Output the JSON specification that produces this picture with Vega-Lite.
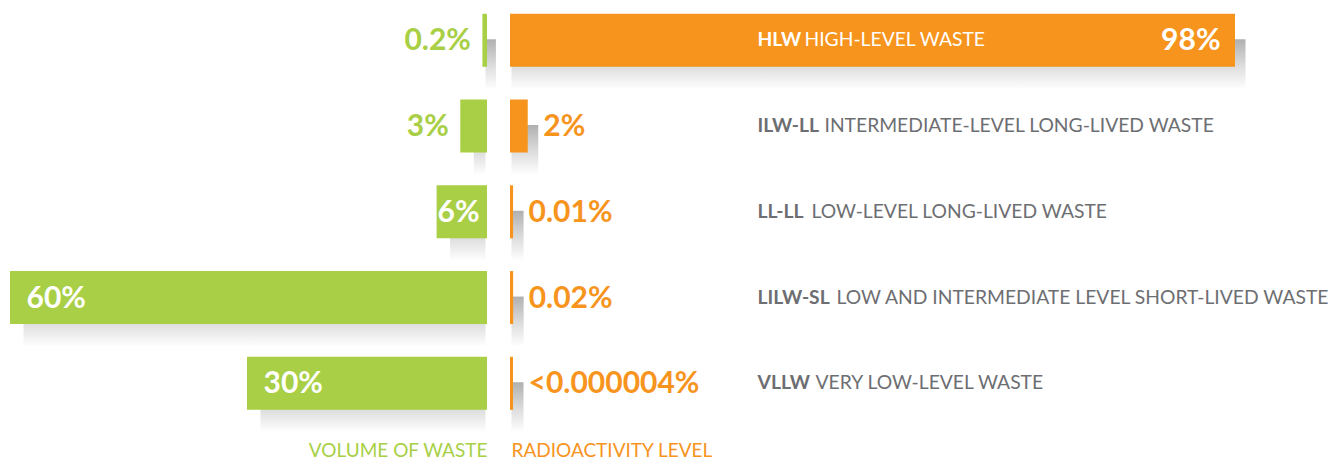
{
  "$schema": "https://vega.github.io/schema/vega-lite/v6.json",
  "width": 1340,
  "height": 461,
  "autosize": "none",
  "padding": 0,
  "background": "white",
  "config": {
    "view": {"stroke": null},
    "axis": {"grid": false, "domain": false, "ticks": false},
    "text": {"font": "Lato"}
  },
  "data": {
    "values": [
      {"code": "HLW", "desc": "HIGH-LEVEL WASTE", "volume": 0.2, "volumeLabel": "0.2%", "activity": 98, "activityLabel": "98%"},
      {"code": "ILW-LL", "desc": "INTERMEDIATE-LEVEL LONG-LIVED WASTE", "volume": 3, "volumeLabel": "3%", "activity": 2, "activityLabel": "2%"},
      {"code": "LL-LL", "desc": "LOW-LEVEL LONG-LIVED WASTE", "volume": 6, "volumeLabel": "6%", "activity": 0.01, "activityLabel": "0.01%"},
      {"code": "LILW-SL", "desc": "LOW AND INTERMEDIATE LEVEL SHORT-LIVED WASTE", "volume": 60, "volumeLabel": "60%", "activity": 0.02, "activityLabel": "0.02%"},
      {"code": "VLLW", "desc": "VERY LOW-LEVEL WASTE", "volume": 30, "volumeLabel": "30%", "activity": 0.000004, "activityLabel": "<0.000004%"}
    ]
  },
  "resolve": {"scale": {"x": "independent", "y": "independent"}, "axis": {"x": "independent", "y": "independent"}},
  "layer": [
    {
      "mark": {"type": "bar", "xOffset": 12, "yOffset": 24, "fill": {"gradient": "linear", "x1": 0, "y1": 0, "x2": 0, "y2": 1, "stops": [{"offset": 0, "color": "#b0b0b0"}, {"offset": 0.5, "color": "#dadada"}, {"offset": 1, "color": "#ffffff"}]}},
      "encoding": {
        "x": {"field": "volume", "type": "quantitative", "scale": {"domain": [0, 60], "range": [485.5, 11.5]}, "axis": null},
        "x2": {"datum": 0},
        "y": {"field": "desc", "type": "nominal", "sort": null, "scale": {"domain": ["HIGH-LEVEL WASTE", "INTERMEDIATE-LEVEL LONG-LIVED WASTE", "LOW-LEVEL LONG-LIVED WASTE", "LOW AND INTERMEDIATE LEVEL SHORT-LIVED WASTE", "VERY LOW-LEVEL WASTE"], "range": [-2.6, 426.2], "paddingInner": 0.417, "paddingOuter": 0.2085},
          "axis": {"orient": "right", "offset": -583, "zindex": 1, "title": null, "labelAlign": "left", "labelBaseline": "middle", "labelFont": "Lato", "labelFontSize": 19.3, "labelFontWeight": "normal", "labelLimit": 0,
            "labelPadding": {"condition": [
              {"test": "datum.value === 'HIGH-LEVEL WASTE'", "value": 47},
              {"test": "datum.value === 'INTERMEDIATE-LEVEL LONG-LIVED WASTE'", "value": 67},
              {"test": "datum.value === 'LOW-LEVEL LONG-LIVED WASTE'", "value": 54},
              {"test": "datum.value === 'LOW AND INTERMEDIATE LEVEL SHORT-LIVED WASTE'", "value": 79}
            ], "value": 58},
            "labelColor": {"condition": {"test": "datum.value === 'HIGH-LEVEL WASTE'", "value": "#ffffff"}, "value": "#6d6e71"}}}
      }
    },
    {
      "mark": {"type": "bar", "xOffset": 12, "yOffset": 24, "fill": {"gradient": "linear", "x1": 0, "y1": 0, "x2": 0, "y2": 1, "stops": [{"offset": 0, "color": "#b0b0b0"}, {"offset": 0.5, "color": "#dadada"}, {"offset": 1, "color": "#ffffff"}]}},
      "encoding": {
        "x": {"field": "activity", "type": "quantitative", "scale": {"domain": [0, 98], "range": [511.5, 1233.5]}, "axis": null},
        "x2": {"datum": 0},
        "y": {"field": "code", "type": "nominal", "sort": null, "scale": {"domain": ["HLW", "ILW-LL", "LL-LL", "LILW-SL", "VLLW"], "range": [-2.6, 426.2], "paddingInner": 0.417, "paddingOuter": 0.2085}, "axis": null}
      }
    },
    {
      "mark": {"type": "bar", "color": "#a8cf45", "stroke": "#a8cf45", "strokeWidth": 3},
      "encoding": {
        "x": {"field": "volume", "type": "quantitative", "scale": {"domain": [0, 60], "range": [485.5, 11.5]},
          "axis": {"orient": "bottom", "labels": false, "title": "VOLUME OF WASTE", "titleX": 487, "titleY": -11, "titleAlign": "right", "titleBaseline": "middle", "titleFont": "Lato", "titleFontSize": 19, "titleFontWeight": "normal", "titleColor": "#a8cf45", "titlePadding": 0}},
        "x2": {"datum": 0},
        "y": {"field": "code", "type": "nominal", "sort": null, "scale": {"domain": ["HLW", "ILW-LL", "LL-LL", "LILW-SL", "VLLW"], "range": [-2.6, 426.2], "paddingInner": 0.417, "paddingOuter": 0.2085}, "axis": null}
      }
    },
    {
      "mark": {"type": "bar", "color": "#f7941d", "stroke": "#f7941d", "strokeWidth": 3},
      "encoding": {
        "x": {"field": "activity", "type": "quantitative", "scale": {"domain": [0, 98], "range": [511.5, 1233.5]},
          "axis": {"orient": "top", "labels": false, "title": "RADIOACTIVITY LEVEL", "titleX": 511, "titleY": 450, "titleAlign": "left", "titleBaseline": "middle", "titleFont": "Lato", "titleFontSize": 19, "titleFontWeight": "normal", "titleColor": "#f7941d", "titlePadding": 0}},
        "x2": {"datum": 0},
        "y": {"field": "code", "type": "nominal", "sort": null, "scale": {"domain": ["HLW", "ILW-LL", "LL-LL", "LILW-SL", "VLLW"], "range": [-2.6, 426.2], "paddingInner": 0.417, "paddingOuter": 0.2085},
          "axis": {"orient": "right", "offset": -583, "zindex": 1, "title": null, "labelAlign": "left", "labelBaseline": "middle", "labelPadding": 0, "labelFont": "Lato", "labelFontSize": 19.3, "labelFontWeight": "bold", "labelLimit": 0,
            "labelColor": {"condition": {"test": "datum.value === 'HLW'", "value": "#ffffff"}, "value": "#6d6e71"}}}
      }
    },
    {
      "transform": [{"filter": "datum.volume < 5"}],
      "mark": {"type": "text", "align": "right", "baseline": "middle", "dx": -13, "dy": 1, "font": "Lato", "fontSize": 30, "fontWeight": "bold", "color": "#a8cf45"},
      "encoding": {
        "x": {"field": "volume", "type": "quantitative", "scale": {"domain": [0, 60], "range": [485.5, 11.5]}, "axis": null},
        "y": {"field": "code", "type": "nominal", "sort": null, "scale": {"domain": ["HLW", "ILW-LL", "LL-LL", "LILW-SL", "VLLW"], "range": [-2.6, 426.2], "paddingInner": 0.417, "paddingOuter": 0.2085}, "axis": null},
        "text": {"field": "volumeLabel"}
      }
    },
    {
      "transform": [{"filter": "datum.volume >= 20"}],
      "mark": {"type": "text", "align": "left", "baseline": "middle", "dx": 15, "dy": 1, "font": "Lato", "fontSize": 30, "fontWeight": "bold", "color": "#ffffff"},
      "encoding": {
        "x": {"field": "volume", "type": "quantitative", "scale": {"domain": [0, 60], "range": [485.5, 11.5]}, "axis": null},
        "y": {"field": "code", "type": "nominal", "sort": null, "scale": {"domain": ["HLW", "ILW-LL", "LL-LL", "LILW-SL", "VLLW"], "range": [-2.6, 426.2], "paddingInner": 0.417, "paddingOuter": 0.2085}, "axis": null},
        "text": {"field": "volumeLabel"}
      }
    },
    {
      "transform": [{"filter": "datum.volume >= 5 && datum.volume < 20"}],
      "mark": {"type": "text", "align": "right", "baseline": "middle", "dx": -6, "dy": 1, "font": "Lato", "fontSize": 30, "fontWeight": "bold", "color": "#ffffff"},
      "encoding": {
        "x": {"datum": 0, "type": "quantitative", "scale": {"domain": [0, 60], "range": [485.5, 11.5]}, "axis": null},
        "y": {"field": "code", "type": "nominal", "sort": null, "scale": {"domain": ["HLW", "ILW-LL", "LL-LL", "LILW-SL", "VLLW"], "range": [-2.6, 426.2], "paddingInner": 0.417, "paddingOuter": 0.2085}, "axis": null},
        "text": {"field": "volumeLabel"}
      }
    },
    {
      "transform": [{"filter": "datum.activity >= 50"}],
      "mark": {"type": "text", "align": "right", "baseline": "middle", "dx": -13, "dy": 1, "font": "Lato", "fontSize": 30, "fontWeight": "bold", "color": "#ffffff"},
      "encoding": {
        "x": {"field": "activity", "type": "quantitative", "scale": {"domain": [0, 98], "range": [511.5, 1233.5]}, "axis": null},
        "y": {"field": "code", "type": "nominal", "sort": null, "scale": {"domain": ["HLW", "ILW-LL", "LL-LL", "LILW-SL", "VLLW"], "range": [-2.6, 426.2], "paddingInner": 0.417, "paddingOuter": 0.2085}, "axis": null},
        "text": {"field": "activityLabel"}
      }
    },
    {
      "transform": [{"filter": "datum.activity < 50"}],
      "mark": {"type": "text", "align": "left", "baseline": "middle", "dx": 17, "dy": 1, "font": "Lato", "fontSize": 30, "fontWeight": "bold", "color": "#f7941d"},
      "encoding": {
        "x": {"field": "activity", "type": "quantitative", "scale": {"domain": [0, 98], "range": [511.5, 1233.5]}, "axis": null},
        "y": {"field": "code", "type": "nominal", "sort": null, "scale": {"domain": ["HLW", "ILW-LL", "LL-LL", "LILW-SL", "VLLW"], "range": [-2.6, 426.2], "paddingInner": 0.417, "paddingOuter": 0.2085}, "axis": null},
        "text": {"field": "activityLabel"}
      }
    }
  ]
}
